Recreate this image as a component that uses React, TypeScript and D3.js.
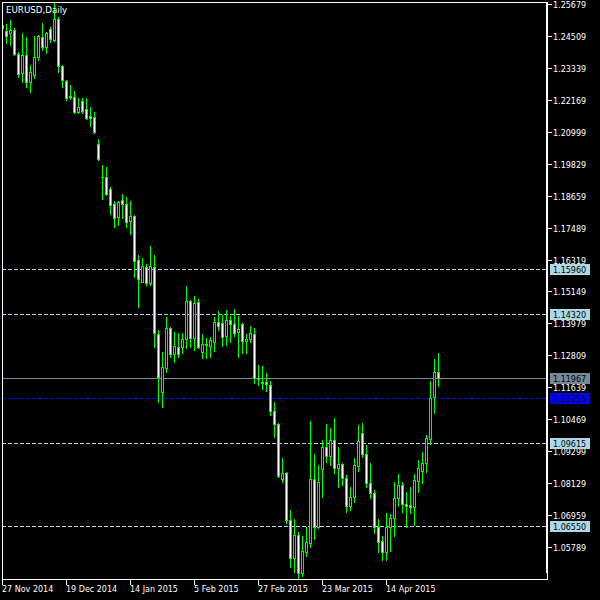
import React from 'react';
import * as d3 from 'd3';

const opens = [
  1.2491, 1.2469, 1.24617, 1.24727, 1.23847, 1.23152, 1.23811, 1.22822, 1.23078, 1.23738,
  1.2447, 1.24104, 1.24763, 1.2436, 1.2513, 1.23408, 1.22858, 1.22272, 1.22272, 1.21723,
  1.22126, 1.21833, 1.21576, 1.2154, 1.20551, 1.19342, 1.19342, 1.18902, 1.18353, 1.17877,
  1.185, 1.18353, 1.1773, 1.17913, 1.16302, 1.15496, 1.16045, 1.15459, 1.16045, 1.13591,
  1.11467, 1.12346, 1.13811, 1.12858, 1.13115, 1.13115, 1.13408, 1.148, 1.13445, 1.14763,
  1.12932, 1.13225, 1.13152, 1.13298, 1.14031, 1.13994, 1.13518, 1.14104, 1.13957, 1.13664,
  1.13957, 1.13335, 1.13408, 1.13591, 1.11979, 1.11833, 1.11833, 1.11723, 1.10771, 1.10294,
  1.0828, 1.085, 1.06778, 1.05386, 1.06228, 1.04837, 1.05606, 1.05935, 1.0828, 1.06521,
  1.08646, 1.09452, 1.09122, 1.09708, 1.08683, 1.08829, 1.08316, 1.07291, 1.0762, 1.08756,
  1.09965, 1.09195, 1.08133, 1.07767, 1.06521, 1.06009, 1.05606, 1.06521, 1.06851, 1.07584,
  1.0806, 1.07364, 1.07327, 1.07254, 1.08206, 1.08573, 1.08866, 1.09745, 1.11283, 1.12199,
];
const highs = [
  1.25093, 1.24946, 1.25093, 1.248, 1.23921, 1.24617, 1.2447, 1.23445, 1.24507, 1.24543,
  1.24983, 1.24653, 1.24837, 1.25716, 1.25203, 1.23445, 1.22895, 1.22712, 1.22492, 1.22236,
  1.22236, 1.22236, 1.21906, 1.21723, 1.20734, 1.19782, 1.19708, 1.18976, 1.18463, 1.18463,
  1.18719, 1.18609, 1.18463, 1.1795, 1.16485, 1.16375, 1.16155, 1.16815, 1.16485, 1.13738,
  1.12932, 1.14214, 1.13847, 1.13664, 1.13628, 1.13628, 1.15349, 1.14837, 1.14983, 1.14873,
  1.13591, 1.13445, 1.13481, 1.14214, 1.14434, 1.14287, 1.1447, 1.14251, 1.14507, 1.14251,
  1.14, 1.13591, 1.13884, 1.13811, 1.12456, 1.12419, 1.12163, 1.11869, 1.111, 1.10331,
  1.09049, 1.08536, 1.07144, 1.06815, 1.06338, 1.06192, 1.06521, 1.10404, 1.09195, 1.08793,
  1.09708, 1.10294, 1.10148, 1.10514, 1.09452, 1.08866, 1.08426, 1.07987, 1.09049, 1.10258,
  1.10331, 1.09525, 1.08866, 1.07877, 1.06815, 1.06192, 1.07034, 1.06998, 1.0817, 1.08463,
  1.0817, 1.07804, 1.07987, 1.08463, 1.08976, 1.09269, 1.09891, 1.11869, 1.12675, 1.12895,
];
const lows = [
  1.24653, 1.2425, 1.24177, 1.23811, 1.23005, 1.22822, 1.22639, 1.22456, 1.22968, 1.23628,
  1.23994, 1.23884, 1.24287, 1.24324, 1.23188, 1.22639, 1.22163, 1.22199, 1.21686, 1.21686,
  1.21686, 1.21467, 1.2121, 1.20954, 1.19965, 1.18536, 1.18683, 1.17987, 1.17511, 1.17584,
  1.1784, 1.17511, 1.17254, 1.15679, 1.1458, 1.15496, 1.15386, 1.15386, 1.13115, 1.111,
  1.10917, 1.12199, 1.12749, 1.12565, 1.12749, 1.12895, 1.13078, 1.13115, 1.13005, 1.13078,
  1.12712, 1.12712, 1.12749, 1.12968, 1.13738, 1.13152, 1.13188, 1.13298, 1.13518, 1.12749,
  1.12895, 1.12895, 1.13298, 1.11796, 1.11723, 1.11576, 1.11503, 1.10624, 1.09818, 1.08353,
  1.0817, 1.06668, 1.05056, 1.04873, 1.04617, 1.04727, 1.05459, 1.05789, 1.06082, 1.06485,
  1.0762, 1.08902, 1.08793, 1.085, 1.07987, 1.0806, 1.07071, 1.07144, 1.07437, 1.08573,
  1.09086, 1.07987, 1.07584, 1.06302, 1.05606, 1.05313, 1.05313, 1.05642, 1.06192, 1.07291,
  1.07071, 1.06521, 1.07034, 1.06595, 1.07804, 1.08133, 1.08536, 1.09562, 1.10697, 1.11686,
];
const closes = [
  1.248, 1.24507, 1.24727, 1.23847, 1.23115, 1.23811, 1.22822, 1.23188, 1.23738, 1.24507,
  1.24104, 1.24617, 1.24397, 1.2513, 1.23408, 1.22895, 1.22236, 1.22309, 1.21723, 1.21906,
  1.2176, 1.21503, 1.21503, 1.2099, 1.20001, 1.1933, 1.18719, 1.18316, 1.1784, 1.18426,
  1.18353, 1.17694, 1.17913, 1.16265, 1.15606, 1.16082, 1.15459, 1.16082, 1.13628, 1.12016,
  1.12382, 1.13811, 1.12858, 1.13152, 1.12858, 1.13408, 1.148, 1.13445, 1.14727, 1.13115,
  1.13225, 1.13188, 1.13371, 1.14031, 1.13884, 1.13481, 1.14104, 1.13957, 1.13628, 1.13774,
  1.13335, 1.13408, 1.13628, 1.11979, 1.11943, 1.11796, 1.1176, 1.10771, 1.10294, 1.0839,
  1.085, 1.06778, 1.05386, 1.06228, 1.04837, 1.05642, 1.05972, 1.0828, 1.06521, 1.0817,
  1.09452, 1.09122, 1.09708, 1.08683, 1.08829, 1.08316, 1.07291, 1.0762, 1.08793, 1.09672,
  1.09195, 1.08133, 1.07767, 1.06521, 1.05972, 1.05606, 1.06521, 1.06851, 1.07584, 1.0806,
  1.07364, 1.07291, 1.07254, 1.08243, 1.08683, 1.08866, 1.09782, 1.11247, 1.12199, 1.11967,
];

const priceTicks = [
  1.25679, 1.24509, 1.23339, 1.22169, 1.20999, 1.19829, 1.18659, 1.17489, 1.16319,
  1.15149, 1.13979, 1.12809, 1.11639, 1.10469, 1.09299, 1.08129, 1.06959, 1.05789,
];
const dateLabels = ['27 Nov 2014', '19 Dec 2014', '14 Jan 2015', '5 Feb 2015', '27 Feb 2015', '23 Mar 2015', '14 Apr 2015'];
const dateBars = [0, 16, 32, 48, 64, 80, 96];
const dashedLevels = [1.1596, 1.1432, 1.09615, 1.0655];
const bidLevel = 1.11967;
const blueLevel = 1.11255;
const symbolTitle = 'EURUSD,Daily';

const FONT = 'DejaVu Sans';
const GREEN = '#00ff00';
const LIGHTBLUE = '#add8e6';
const SLATE = '#778899';

export default function App() {
  const x = d3.scaleLinear().domain([0, 1]).range([2, 6]);
  const y = d3.scaleLinear().domain([1.05789, 1.25679]).range([547, 4]);
  const py = (v: number) => Math.round(y(v));
  const left = 2;
  const right = 547;
  const bottom = 579;

  const candles = opens.map((o, i) => {
    const h = highs[i];
    const l = lows[i];
    const c = closes[i];
    const xc = Math.round(x(i));
    const yh = py(h);
    const yl = py(l);
    const yo = py(o);
    const yc = py(c);
    const top = Math.min(yo, yc);
    const bot = Math.max(yo, yc);
    const bear = c < o;
    return (
      <g key={i}>
        <rect x={xc} y={yh} width={1} height={yl - yh + 1} fill={GREEN} />
        <rect x={xc - 1} y={top} width={3} height={Math.max(1, bot - top + 1)} fill={GREEN} />
        {bot - top >= 2 && (
          <rect x={xc} y={top + 1} width={1} height={bot - top - 1} fill={bear ? '#ffffff' : '#000000'} />
        )}
      </g>
    );
  });

  const levelLabel = (v: number, bg: string, fg: string, key: string) => {
    const yy = py(v);
    return (
      <g key={key}>
        <rect x={543} y={yy} width={3} height={1} fill={bg} />
        <rect x={550} y={yy - 5} width={40} height={11} fill={bg} />
        <text x={553} y={yy + 3.5} fontFamily={FONT} fontSize={8} fill={fg}>
          {v.toFixed(5)}
        </text>
      </g>
    );
  };

  return (
    <svg
      width={600}
      height={600}
      style={{ position: 'fixed', left: 0, top: 0, background: '#000' }}
      shapeRendering="crispEdges"
    >
      <rect x={0} y={0} width={600} height={600} fill="#000" />
      <defs>
        <clipPath id="plot">
          <rect x={left} y={2} width={right - left} height={bottom - 2} />
        </clipPath>
      </defs>
      <g clipPath="url(#plot)">
        {dashedLevels.map((v) => (
          <line key={v} x1={left} x2={right} y1={py(v) + 0.5} y2={py(v) + 0.5} stroke={LIGHTBLUE} strokeDasharray="4,2" />
        ))}
        <line x1={left} x2={right} y1={py(blueLevel) + 0.5} y2={py(blueLevel) + 0.5} stroke="#0000ff" strokeDasharray="4,2" />
        <line x1={left} x2={right} y1={py(bidLevel) + 0.5} y2={py(bidLevel) + 0.5} stroke={SLATE} />
        {candles}
      </g>
      <rect x={left + 0.5} y={2.5} width={right - left} height={bottom - 2} fill="none" stroke="#fff" />
      <rect x={546} y={2} width={2} height={571} fill="#fff" />
      <text x={6} y={13} fontFamily={FONT} fontSize={8.7} fill="#fff">
        {symbolTitle}
      </text>
      {priceTicks.map((v) => {
        const yy = py(v);
        return (
          <g key={v}>
            <rect x={548} y={yy} width={4} height={1} fill="#fff" />
            <text x={553} y={yy + 3.5} fontFamily={FONT} fontSize={8} fill="#fff">
              {v.toFixed(5)}
            </text>
          </g>
        );
      })}
      {dashedLevels.map((v) => levelLabel(v, LIGHTBLUE, '#000', 'l' + v))}
      {levelLabel(bidLevel, SLATE, '#000', 'bid')}
      {levelLabel(blueLevel, '#0000ff', '#000', 'blue')}
      {dateBars.map((b, i) => {
        const xc = Math.round(x(b));
        return (
          <g key={b}>
            <rect x={xc} y={bottom} width={1} height={6} fill="#fff" />
            <text x={xc} y={592} fontFamily={FONT} fontSize={8} fill="#fff">
              {dateLabels[i]}
            </text>
          </g>
        );
      })}
    </svg>
  );
}
